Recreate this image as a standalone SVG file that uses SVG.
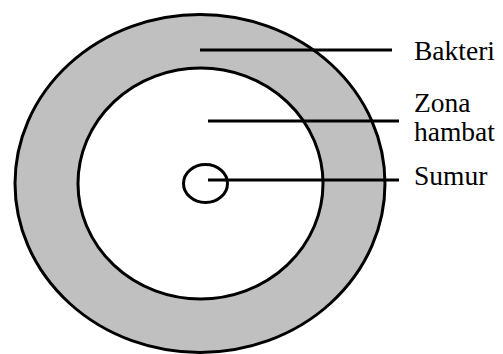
<svg xmlns="http://www.w3.org/2000/svg" width="503" height="354" viewBox="0 0 503 354">
<style>
.sh{stroke:#000;stroke-width:3}
.ln{stroke:#000;stroke-width:3;fill:none}
</style>
<rect width="503" height="354" fill="#fff"/>
<g id="bakteri-zone"><ellipse cx="200" cy="183.5" rx="185" ry="169" fill="#c0c0c0" class="sh"/></g>
<g id="zona-hambat"><ellipse cx="200.5" cy="183.5" rx="122.5" ry="115.5" fill="#fff" class="sh"/></g>
<g id="sumur"><ellipse cx="205.5" cy="183.5" rx="22" ry="19" fill="none" class="sh"/></g>
<g id="connectors">
<line x1="200" y1="50" x2="392" y2="50" class="ln"/>
<line x1="208" y1="121" x2="399" y2="121" class="ln"/>
<line x1="208" y1="180" x2="399" y2="180" class="ln"/>
</g>
<g id="labels" font-family="Liberation Serif, serif" font-size="27.5" fill="#000">
<text x="414" y="60">Bakteri</text>
<text x="414" y="112">Zona</text>
<text x="414" y="141">hambat</text>
<text x="414" y="185">Sumur</text>
</g>
</svg>
